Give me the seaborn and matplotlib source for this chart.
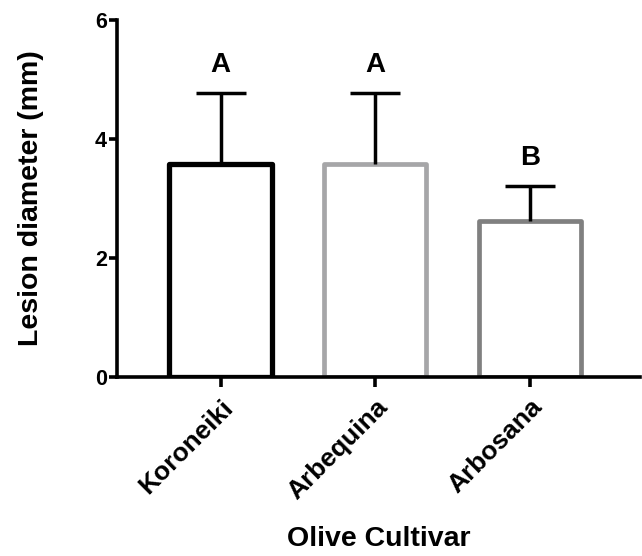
import pandas as pd
import matplotlib.pyplot as plt
import seaborn as sns

cultivars = ['Koroneiki', 'Arbequina', 'Arbosana']
lesion_mean = [3.58, 3.58, 2.62]
lesion_sd = [1.19, 1.19, 0.59]
letters = ['A', 'A', 'B']
bar_colors = ['#000000', '#a6a6a8', '#808080']

df = pd.DataFrame({'Cultivar': cultivars, 'Lesion': lesion_mean})

sns.set_style('ticks')
plt.rcParams['font.family'] = ['Liberation Sans', 'DejaVu Sans']
plt.rcParams['font.weight'] = 'bold'
plt.rcParams['text.color'] = 'black'
plt.rcParams['axes.labelcolor'] = 'black'
plt.rcParams['xtick.color'] = 'black'
plt.rcParams['ytick.color'] = 'black'
plt.rcParams['axes.edgecolor'] = 'black'

fig = plt.figure(figsize=(6.42, 5.56), dpi=100)
ax = fig.add_axes([0.182, 0.322, 0.815, 0.642])

sns.barplot(data=df, x='Cultivar', y='Lesion', hue='Cultivar', palette=bar_colors,
            fill=False, width=0.66, linewidth=3.4, errorbar=None, legend=False, ax=ax)
for patch, c in zip(ax.patches, bar_colors):
    patch.set_edgecolor(c)
    patch.set_joinstyle('round')
ax.patches[0].set_linewidth(3.8)

# upper half of the error bar only
_, caps, _ = ax.errorbar(range(len(cultivars)), lesion_mean,
                         yerr=[[0] * len(cultivars), lesion_sd],
                         fmt='none', ecolor='black', elinewidth=2.5,
                         capsize=18, capthick=2.5, zorder=1)
caps[0].set_visible(False)

for i, (m, s, t) in enumerate(zip(lesion_mean, lesion_sd, letters)):
    ax.text(i, m + s + 0.25, t, ha='center', va='bottom', fontsize=20, fontweight='bold')

ax.set_xlim(-0.67, 2.71)
ax.set_ylim(0, 6)
ax.set_yticks([0, 2, 4, 6])
sns.despine(ax=ax)
for side in ['left', 'bottom']:
    ax.spines[side].set_linewidth(2.6)
ax.tick_params(axis='y', width=2.6, length=6, pad=1, labelsize=15.5)
ax.tick_params(axis='x', width=2.6, length=7, pad=6, labelsize=19)
for lab in ax.get_xticklabels():
    lab.set_rotation(45)
    lab.set_ha('right')
    lab.set_rotation_mode('anchor')
    lab.set_fontweight('bold')
plt.setp(ax.get_yticklabels(), fontweight='bold')
ax.set_xlabel('Olive Cultivar', fontsize=20.5, fontweight='bold', labelpad=16)
ax.set_ylabel('Lesion diameter (mm)', fontsize=20.5, fontweight='bold', labelpad=37)

plt.savefig('out.png', dpi=100)
